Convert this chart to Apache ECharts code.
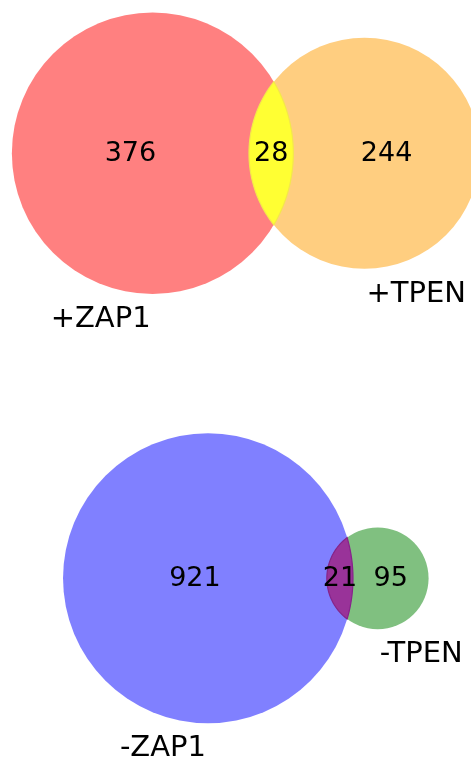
<!DOCTYPE html>
<html>
<head>
<meta charset="utf-8">
<script src="https://cdn.jsdelivr.net/npm/echarts@6/dist/echarts.min.js"></script>
<style>
html,body{margin:0;padding:0;background:#fff;}
#chart{width:471px;height:757px;}
</style>
</head>
<body>
<div id="chart"></div>
<script>
// ---- data ----
const topSetNames = ['+ZAP1', '+TPEN'];
const topCounts = [376, 244, 28];      // A only, B only, A and B
const bottomSetNames = ['-ZAP1', '-TPEN'];
const bottomCounts = [921, 95, 21];    // A only, B only, A and B

// ---- styles / layout (not data) ----
const styles = [
  { a: '#ff8080', b: '#ffce80', ab: '#ffff33', abEdge: '#f4e84a' },
  { a: '#8080ff', b: '#80c080', ab: '#993399', abEdge: '#86238a' }
];
// pixel scale (px per unit) and pixel anchor of circle A's centre
const layouts = [
  { scale: 12.41, ax: 152.6, ay: 153.3 },
  { scale: 8.372, ax: 208.0, ay: 578.3 }
];
const W = 471, H = 757;
const FONT = "'DejaVu Sans', sans-serif";

// ---- geometry from counts (area-proportional venn) ----
function lensArea(rA, rB, d) {
  if (d >= rA + rB) return 0;
  if (d <= Math.abs(rA - rB)) return Math.PI * Math.min(rA, rB) ** 2;
  const a1 = Math.acos((d * d + rA * rA - rB * rB) / (2 * d * rA));
  const a2 = Math.acos((d * d + rB * rB - rA * rA) / (2 * d * rB));
  const k = Math.sqrt((-d + rA + rB) * (d + rA - rB) * (d - rA + rB) * (d + rA + rB));
  return rA * rA * a1 + rB * rB * a2 - 0.5 * k;
}
function vennGeometry(counts) {
  const [a, b, ab] = counts;
  const rA = Math.sqrt((a + ab) / Math.PI);
  const rB = Math.sqrt((b + ab) / Math.PI);
  let lo = Math.abs(rA - rB), hi = rA + rB;
  for (let i = 0; i < 100; i++) {
    const mid = (lo + hi) / 2;
    if (lensArea(rA, rB, mid) > ab) lo = mid; else hi = mid;
  }
  const d = (lo + hi) / 2;
  return { rA, rB, d };
}

const diagrams = [
  { names: topSetNames, counts: topCounts },
  { names: bottomSetNames, counts: bottomCounts }
].map(v => Object.assign({}, v, vennGeometry(v.counts)));

const grids = [], xAxes = [], yAxes = [], series = [];
diagrams.forEach((dg, i) => {
  const L = layouts[i], st = styles[i];
  grids.push({ left: 0, top: 0, width: W, height: H });
  xAxes.push({ gridIndex: i, type: 'value', show: false, min: -L.ax / L.scale, max: (W - L.ax) / L.scale });
  yAxes.push({ gridIndex: i, type: 'value', show: false, min: -(H - L.ay) / L.scale, max: L.ay / L.scale });

  const rA = dg.rA, rB = dg.rB, d = dg.d;
  // circles: [cx, cy, r]
  const circleData = [[0, 0, rA], [d, 0, rB]];
  series.push({
    type: 'custom', xAxisIndex: i, yAxisIndex: i, silent: true,
    data: circleData,
    renderItem: function (params, api) {
      const c = api.coord([api.value(0), api.value(1)]);
      const r = api.size([api.value(2), 0])[0];
      return { type: 'circle', shape: { cx: c[0], cy: c[1], r: r },
        style: { fill: params.dataIndex === 0 ? st.a : st.b } };
    }
  });
  // lens (intersection)
  series.push({
    type: 'custom', xAxisIndex: i, yAxisIndex: i, silent: true,
    data: [[d, rA, rB]],
    renderItem: function (params, api) {
      const dd = api.value(0), ra = api.value(1), rb = api.value(2);
      const xi = (dd * dd + ra * ra - rb * rb) / (2 * dd);
      const h = Math.sqrt(ra * ra - xi * xi);
      const tA = Math.atan2(h, xi);
      const tB = Math.atan2(h, xi - dd);
      const pts = [];
      const N = 90;
      for (let k = 0; k <= N; k++) {
        const t = tA - (2 * tA) * k / N;
        pts.push(api.coord([ra * Math.cos(t), ra * Math.sin(t)]));
      }
      for (let k = 0; k <= N; k++) {
        const t = -tB - (2 * (Math.PI - tB)) * k / N;
        pts.push(api.coord([dd + rb * Math.cos(t), rb * Math.sin(t)]));
      }
      return { type: 'polygon', shape: { points: pts },
        style: { fill: st.ab, stroke: st.abEdge, lineWidth: 1.2 } };
    }
  });
  // region count labels
  const labelData = [
    [((-rA) + (d - rB)) / 2, 0, dg.counts[0]],
    [((rA) + (d + rB)) / 2, 0, dg.counts[1]],
    [((d - rB) + rA) / 2, 0, dg.counts[2]]
  ];
  series.push({
    type: 'custom', xAxisIndex: i, yAxisIndex: i, silent: true, z: 5,
    data: labelData,
    renderItem: function (params, api) {
      const c = api.coord([api.value(0), api.value(1)]);
      return { type: 'text', x: c[0], y: c[1] + 1,
        style: { text: String(api.value(2)), fontFamily: FONT, fontSize: 27, fill: '#000',
          align: 'center', verticalAlign: 'middle' } };
    }
  });
  // set labels under each circle
  const setData = [[0, -rA, 0], [d, -rB, 1]];
  series.push({
    type: 'custom', xAxisIndex: i, yAxisIndex: i, silent: true, z: 5,
    data: setData,
    renderItem: function (params, api) {
      const c = api.coord([api.value(0), api.value(1)]);
      const which = api.value(2);
      return { type: 'text', x: c[0] + (which === 0 ? -2 : 2), y: c[1] + 11,
        style: { text: dg.names[which], fontFamily: FONT, fontSize: 29, fill: '#000',
          align: which === 0 ? 'right' : 'left', verticalAlign: 'top' } };
    }
  });
});

const chart = echarts.init(document.getElementById('chart'), null, { renderer: 'canvas' });
chart.setOption({
  animation: false,
  backgroundColor: '#fff',
  grid: grids, xAxis: xAxes, yAxis: yAxes, series: series
});
</script>
</body>
</html>
